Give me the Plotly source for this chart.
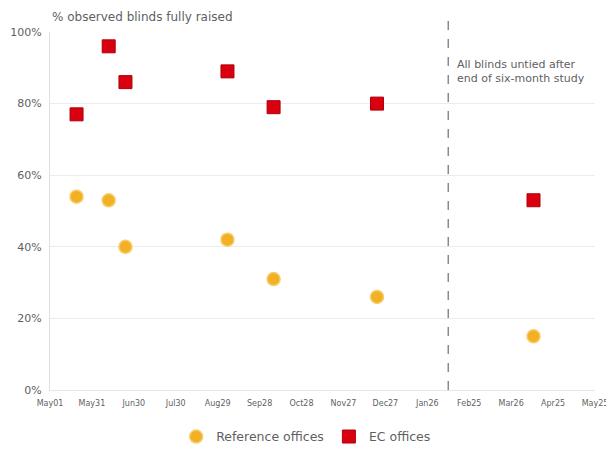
import plotly.graph_objects as go

survey_dates = ["2023-05-20", "2023-06-12", "2023-06-24", "2023-09-05",
                "2023-10-08", "2023-12-21", "2024-04-11"]
reference_offices = [54, 53, 40, 42, 31, 26, 15]
ec_offices = [77, 96, 86, 89, 79, 80, 53]
study_end = "2024-02-10"
x_start = "2023-05-01"
x_end = "2024-05-25"
y_ticks = [0, 20, 40, 60, 80, 100]
y_tick_labels = ["0%", "20%", "40%", "60%", "80%", "100%"]

FONT = "DejaVu Sans, Verdana, sans-serif"
GREY = "#5f5f5f"
YELLOW = "#F2B124"
RED = "#D9000F"

fig = go.Figure()
fig.add_trace(go.Scatter(
    x=survey_dates, y=reference_offices, mode="markers", name="Reference offices",
    marker=dict(symbol="circle", size=13, color=YELLOW,
                line=dict(color="#F7CD6A", width=1.5)),
    cliponaxis=False))
fig.add_trace(go.Scatter(
    x=survey_dates, y=ec_offices, mode="markers", name="EC offices",
    marker=dict(symbol="square", size=13, color=RED,
                line=dict(color="#B0000A", width=1)),
    cliponaxis=False))

fig.add_shape(type="line", xref="x", yref="paper", x0=study_end, x1=study_end,
              y0=0, y1=1.055, line=dict(color="#8a8a8a", width=1.5, dash="dash"))

fig.add_annotation(xref="x", yref="paper", x=study_end, y=0.891, xshift=7,
                   text="All blinds untied after<br>end of six-month study",
                   showarrow=False, xanchor="left", yanchor="middle", align="left",
                   font=dict(family=FONT, size=11, color=GREY))
fig.add_annotation(xref="paper", yref="paper", x=0.0, y=1.0, yshift=15,
                   text="% observed blinds fully raised", showarrow=False,
                   xanchor="left", yanchor="middle",
                   font=dict(family=FONT, size=12, color=GREY))

fig.update_layout(
    template="none",
    width=606, height=441,
    margin=dict(l=42, r=19, t=24, b=59, autoexpand=False),
    paper_bgcolor="white", plot_bgcolor="white",
    font=dict(family=FONT, color=GREY),
    showlegend=True,
    legend=dict(orientation="h", x=0.47, xanchor="center", y=-0.131, yanchor="middle",
                font=dict(family=FONT, size=12.5, color=GREY),
                itemwidth=30, tracegroupgap=0, bgcolor="rgba(0,0,0,0)"),
    xaxis=dict(type="date", range=[x_start, x_end], tick0=x_start,
               dtick=30 * 86400000, tickformat="%b%d",
               tickfont=dict(family=FONT, size=8, color=GREY),
               showgrid=False, showline=True, linecolor="#e6e6e6",
               zeroline=False, ticks="", ticklabelstandoff=5, automargin=False),
    yaxis=dict(range=[0, 100], tickvals=y_ticks, ticktext=y_tick_labels,
               tickfont=dict(family=FONT, size=11, color=GREY),
               showgrid=True, gridcolor="#ececec", gridwidth=1,
               showline=True, linecolor="#e0e0e0", zeroline=False, ticks="",
               ticklabelstandoff=5, automargin=False),
)

fig.write_html("out.html")
